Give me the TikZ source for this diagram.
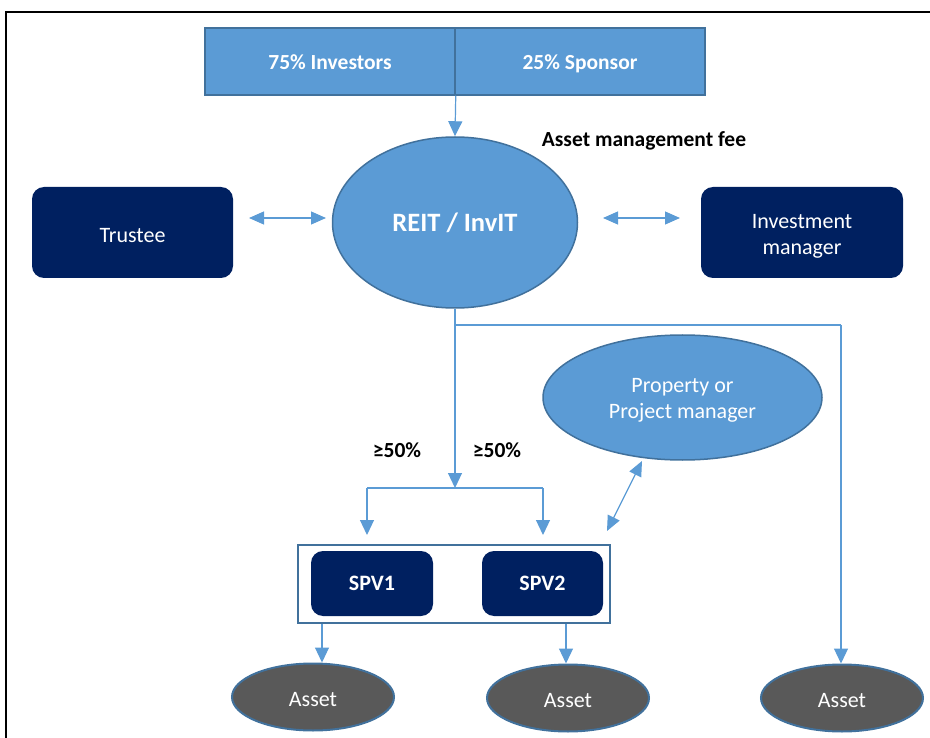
\documentclass[tikz,border=0pt]{standalone}
\usepackage{fontspec}
\setmainfont{Carlito}
\usetikzlibrary{arrows.meta,shapes.geometric}
\definecolor{mblue}{HTML}{5B9BD5}
\definecolor{dblue}{HTML}{41719C}
\definecolor{navy}{HTML}{002060}
\definecolor{agray}{HTML}{595959}
\newcommand{\dn}[2][-2.5pt]{\raisebox{#1}[\height][\depth]{\begin{tabular}{@{}c@{}}#2\end{tabular}}}
\tikzset{
  conn/.style={draw=mblue,line width=1.2pt,-{Triangle[width=14pt,length=15pt]}},
  dconn/.style={draw=mblue,line width=1.2pt,{Triangle[width=13pt,length=15pt]}-{Triangle[width=13pt,length=15pt]}},
  plain/.style={draw=mblue,line width=1.2pt},
  topbox/.style={draw=dblue,line width=1.5pt,fill=mblue,minimum width=250pt,minimum height=67pt,inner sep=0pt,text=white,font=\bfseries\fontsize{21.5}{25}\selectfont},
  navybox/.style={draw=none,fill=navy,rounded corners=12pt,inner sep=0pt,text=white,align=center,font=\fontsize{22}{26}\selectfont},
  bluell/.style={ellipse,draw=dblue,line width=1.5pt,fill=mblue,inner sep=0pt,text=white,align=center},
  assetell/.style={ellipse,draw=dblue,line width=2pt,fill=agray,minimum width=162pt,minimum height=67pt,inner sep=0pt,text=white,font=\fontsize{22}{26}\selectfont},
  lbl/.style={font=\bfseries\fontsize{21.5}{25}\selectfont,text=black},
}
\begin{document}
\begin{tikzpicture}[x=1pt,y=-1pt]
\useasboundingbox (0,0) rectangle (930,738);
% frame
\draw[black,line width=2pt] (6,760) -- (6,12) -- (950,12);
% top boxes
\node[topbox] (inv) at (330,61.5) {\dn[-3pt]{75\% Investors}};
\node[topbox] (spo) at (580,61.5) {\dn[-3pt]{25\% Sponsor}};
% REIT
\node[bluell,minimum width=245pt,minimum height=171pt,font=\bfseries\fontsize{26.5}{30}\selectfont] (reit) at (455,222.5) {REIT / InvIT};
\node[lbl] (fee) at (644,141) {Asset management fee};
% side boxes
\node[navybox,minimum width=201pt,minimum height=91pt] (tru) at (132.5,232.5) {\dn[-5pt]{Trustee}};
\node[navybox,minimum width=202pt,minimum height=91pt] (im) at (802,232.5) {\dn[-4pt]{Investment\\manager}};
\coordinate (tl) at (249,218); \coordinate (tr) at (326,218);
\coordinate (il) at (603,218); \coordinate (ir) at (680,218);
\draw[dconn] (tl) -- (tr);
\draw[dconn] (il) -- (ir);
% arrow into REIT
\draw[conn] (inv.south east) -- (reit.north);
% property manager
\node[bluell,minimum width=279pt,minimum height=125pt,font=\fontsize{22}{26}\selectfont] (pm) at (682.5,397.5) {\dn[-3pt]{Property or\\Project manager}};
% SPV container
\node[draw=dblue,line width=2pt,fill=white,minimum width=312pt,minimum height=78pt,inner sep=0pt] (cont) at (454,584) {};
\node[navybox,minimum width=122pt,minimum height=65pt,font=\bfseries\fontsize{22}{26}\selectfont] (spv1) at (372,583.5) {\dn[-2pt]{SPV1}};
\node[navybox,minimum width=121pt,minimum height=65pt,font=\bfseries\fontsize{22}{26}\selectfont] (spv2) at (542.5,583.5) {\dn[-2pt]{SPV2}};
% assets
\node[assetell] (a1) at (313,697) {\dn[-4pt]{Asset}};
\node[assetell] (a2) at (568,698) {\dn[-4pt]{Asset}};
\node[assetell] (a3) at (842,698) {\dn[-4pt]{Asset}};
% flows from REIT
\coordinate (j) at (455,488);
\coordinate (jl) at (367,488);
\coordinate (jr) at (543,488);
\coordinate (c1) at (367,535);
\coordinate (c2) at (543,535);
\coordinate (k) at (455,325);
\coordinate (kr) at (841,325);
\draw[conn] (reit.south) -- (j);
\draw[plain] (jl) -- (jr);
\draw[conn] (jl) -- (c1);
\draw[conn] (jr) -- (c2);
\draw[plain] (k) -- (kr);
\draw[conn] (kr) -- (a3.north -| kr);
\node[lbl] (p1) at (397,450) {≥50\%};
\node[lbl] (p2) at (497,450) {≥50\%};
% property manager link
\coordinate (pa) at (607,531);
\coordinate (pb) at (642,461);
\draw[dconn] (pa) -- (pb);
% spv to assets
\draw[conn] (cont.south -| 322,0) -- (a1.north -| 322,0);
\draw[conn] (cont.south -| 566,0) -- (a2.north -| 566,0);
\end{tikzpicture}
\end{document}
